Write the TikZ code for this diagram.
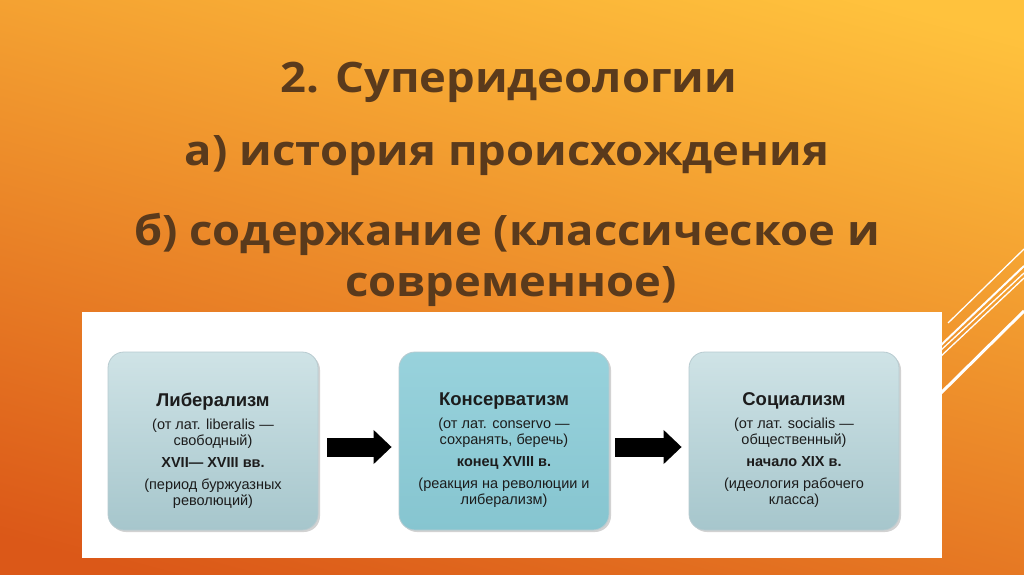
\documentclass[tikz,border=0pt]{standalone}
\usepackage{fontspec}
\setmainfont{Liberation Sans}
\newfontfamily\titlefont{Open Sans}[FakeStretch=1.08]
\usetikzlibrary{arrows.meta,calc,shadows}
\definecolor{bgtop}{HTML}{FFC23D}
\definecolor{bgmid}{HTML}{F29630}
\definecolor{bgbot}{HTML}{DB5818}
\definecolor{titlebrown}{HTML}{5A3A1C}
\definecolor{boxtop}{HTML}{CFE3E6}
\definecolor{boxbot}{HTML}{A6C6CC}
\definecolor{midtop}{HTML}{98D2DC}
\definecolor{midbot}{HTML}{86C5D0}
\definecolor{boxline}{HTML}{B8CBD0}
\definecolor{boxtext}{HTML}{1C1C1C}
\tikzset{
  titletext/.style={anchor=base, text=titlebrown, font=\titlefont\bfseries\fontsize{42}{50}\selectfont, inner sep=0},
  ideabox/.style={draw=boxline, line width=0.8pt, rounded corners=16pt, minimum width=210pt, minimum height=178pt, inner sep=0,
     top color=boxtop, bottom color=boxbot, drop shadow={opacity=0.35, shadow xshift=2pt, shadow yshift=-2pt}},
  midbox/.style={ideabox, top color=midtop, bottom color=midbot},
  boxlabel/.style={anchor=north, align=center, text=boxtext, font=\fontsize{14.5}{16}\selectfont, inner sep=0},
  blockarrow/.style={line width=19pt, -{Triangle[length=18pt, width=33pt]}, black},
  deco/.style={white, line width=1.3pt},
  decothick/.style={white, line width=3pt}
}
\newcommand{\hd}[1]{{\bfseries\fontsize{18.5}{18}\selectfont #1}}
\begin{document}
\begin{tikzpicture}[x=1pt,y=-1pt]
\useasboundingbox (0,0) rectangle (1024,574);
\shade[bottom color=bgbot, middle color=bgmid, top color=bgtop, shading angle=-15] (-40,-40) rectangle (1064,614);

% decorative lines
\draw[deco] (948,323) -- (1024,249);
\draw[deco, line width=2pt] (940,346) -- (1024,266);
\draw[deco] (940,351) -- (1024,273);
\draw[deco] (940,357) -- (1024,278);
\draw[decothick] (940,394) -- (1024,311);

% titles
\node[titletext] (t1) at (509,92) {2. Суперидеологии};
\node[titletext] (t2) at (507,165) {а) история происхождения};
\node[titletext] (t3) at (507,245) {б) содержание (классическое и};
\node[titletext] (t4) at (511,296) {современное)};

% panel
\fill[white] (82,312) rectangle (942,558);

% boxes
\node[ideabox] (b1) at (213,441) {};
\node[midbox] (b2) at (504,441) {};
\node[ideabox] (b3) at (794,441) {};

\node[boxlabel] (l1) at ($(b1.north)+(0,41)$) {\hd{Либерализм}\\[7pt]
(от лат. liberalis —\\свободный)\\[6pt]{\bfseries XVII— XVIII вв.}\\[6pt](период буржуазных\\революций)};
\node[boxlabel] (l2) at ($(b2.north)+(0,41)$) {\hd{Консерватизм}\\[7pt]
(от лат. conservo —\\сохранять, беречь)\\[6pt]{\bfseries конец XVIII в.}\\[6pt](реакция на революции и\\либерализм)};
\node[boxlabel] (l3) at ($(b3.north)+(0,41)$) {\hd{Социализм}\\[7pt]
(от лат. socialis —\\общественный)\\[6pt]{\bfseries начало XIX в.}\\[6pt](идеология рабочего\\класса)};

% arrows
\draw[blockarrow] ($(b1.east)+(9,6)$) -- ($(b2.west)+(-7,6)$);
\draw[blockarrow] ($(b2.east)+(6,6)$) -- ($(b3.west)+(-7,6)$);
\end{tikzpicture}
\end{document}
